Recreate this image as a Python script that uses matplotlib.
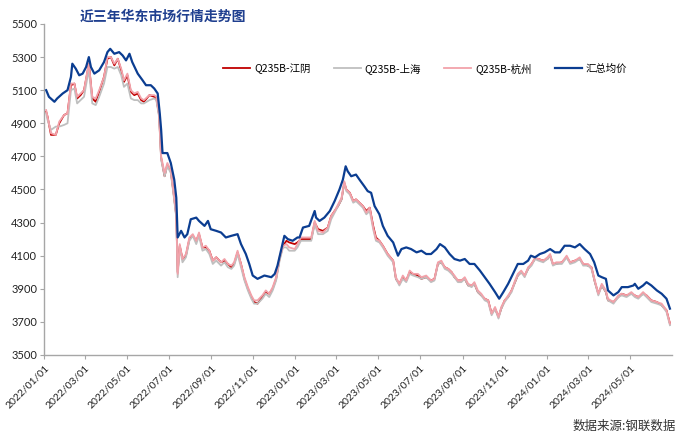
import matplotlib
matplotlib.use("Agg")
import matplotlib.pyplot as plt
import matplotlib.dates as mdates
import pandas as pd

plt.rcParams['font.family'] = ['Noto Sans CJK SC', 'DejaVu Sans']

title = "近三年华东市场行情走势图"
source = "数据来源:钢联数据"
series_names = ["Q235B-江阴", "Q235B-上海", "Q235B-杭州", "汇总均价"]

# dates for the three city series
city_dates = [
    "2022-01-04", "2022-01-06", "2022-01-11", "2022-01-18", "2022-01-23", "2022-01-30",
    "2022-02-04", "2022-02-09", "2022-02-14", "2022-02-18", "2022-02-23", "2022-02-28",
    "2022-03-05", "2022-03-07", "2022-03-12", "2022-03-17", "2022-03-22", "2022-03-29",
    "2022-04-03", "2022-04-08", "2022-04-13", "2022-04-18", "2022-04-23", "2022-04-27",
    "2022-05-02", "2022-05-07", "2022-05-12", "2022-05-17", "2022-05-22", "2022-05-26",
    "2022-06-03", "2022-06-10", "2022-06-13", "2022-06-17", "2022-06-20", "2022-06-25",
    "2022-06-29", "2022-07-04", "2022-07-08", "2022-07-12", "2022-07-14", "2022-07-17",
    "2022-07-21", "2022-07-26", "2022-07-31", "2022-08-05", "2022-08-10", "2022-08-14",
    "2022-08-19", "2022-08-24", "2022-08-29", "2022-09-03", "2022-09-08", "2022-09-15",
    "2022-09-20", "2022-09-25", "2022-09-30", "2022-10-04", "2022-10-09", "2022-10-14",
    "2022-10-19", "2022-10-24", "2022-10-29", "2022-11-02", "2022-11-07", "2022-11-14",
    "2022-11-19", "2022-11-24", "2022-11-29", "2022-12-04", "2022-12-09", "2022-12-14",
    "2022-12-19", "2022-12-23", "2022-12-31", "2023-01-04", "2023-01-09", "2023-01-17",
    "2023-01-24", "2023-01-29", "2023-02-03", "2023-02-10", "2023-02-17", "2023-02-22",
    "2023-02-27", "2023-03-04", "2023-03-09", "2023-03-13", "2023-03-16", "2023-03-21",
    "2023-03-26", "2023-03-30", "2023-04-04", "2023-04-09", "2023-04-14", "2023-04-19",
    "2023-04-24", "2023-04-28", "2023-05-03", "2023-05-08", "2023-05-15", "2023-05-23",
    "2023-05-27", "2023-06-01", "2023-06-06", "2023-06-11", "2023-06-16", "2023-06-21",
    "2023-06-28", "2023-07-03", "2023-07-10", "2023-07-17", "2023-07-22", "2023-07-27",
    "2023-08-01", "2023-08-06", "2023-08-11", "2023-08-16", "2023-08-20", "2023-08-25",
    "2023-08-30", "2023-09-04", "2023-09-09", "2023-09-14", "2023-09-18", "2023-09-23",
    "2023-09-28", "2023-10-03", "2023-10-08", "2023-10-13", "2023-10-18", "2023-10-23",
    "2023-10-27", "2023-11-01", "2023-11-06", "2023-11-11", "2023-11-16", "2023-11-20",
    "2023-11-25", "2023-11-30", "2023-12-05", "2023-12-10", "2023-12-15", "2023-12-20",
    "2023-12-27", "2024-01-02", "2024-01-06", "2024-01-10", "2024-01-15", "2024-01-23",
    "2024-01-30", "2024-02-04", "2024-02-11", "2024-02-18", "2024-02-23", "2024-03-01",
    "2024-03-06", "2024-03-11", "2024-03-16", "2024-03-21", "2024-03-27", "2024-03-30",
    "2024-04-07", "2024-04-14", "2024-04-19", "2024-04-26", "2024-05-03", "2024-05-08",
    "2024-05-13", "2024-05-20", "2024-05-25", "2024-06-01", "2024-06-09", "2024-06-16",
    "2024-06-23", "2024-06-28",
]

hangzhou = [
    4980, 4940, 4840, 4830, 4910, 4950,
    4960, 5140, 5140, 5060, 5080, 5100,
    5220, 5260, 5060, 5050, 5100, 5180,
    5300, 5300, 5260, 5290, 5230, 5160,
    5200, 5100, 5080, 5090, 5050, 5040,
    5070, 5070, 5060, 4960, 4700, 4600,
    4660, 4620, 4490, 4350, 3990, 4170,
    4080, 4110, 4210, 4230, 4190, 4240,
    4150, 4160, 4130, 4070, 4090, 4060,
    4080, 4050, 4040, 4060, 4130, 4050,
    3970, 3910, 3860, 3830, 3830, 3860,
    3890, 3870, 3910, 3970, 4090, 4160,
    4170, 4150, 4140, 4170, 4210, 4210,
    4210, 4310, 4250, 4240, 4270, 4340,
    4370, 4410, 4450, 4550, 4500, 4480,
    4430, 4440, 4420, 4400, 4360, 4390,
    4270, 4200, 4190, 4160, 4110, 4070,
    3970, 3930, 3980, 3950, 4010, 3990,
    3990, 3970, 3980, 3950, 3960, 4060,
    4070, 4030, 4020, 4000, 3980, 3950,
    3950, 3970, 3930, 3920, 3940, 3890,
    3870, 3840, 3830, 3750, 3790, 3730,
    3790, 3830, 3860, 3890, 3950, 3990,
    4010, 3980, 4030, 4050, 4090, 4080,
    4070, 4090, 4110, 4050, 4060, 4060,
    4100, 4060, 4070, 4090, 4050, 4050,
    4030, 3950, 3870, 3930, 3890, 3840,
    3820, 3860, 3870, 3860, 3880, 3860,
    3850, 3880, 3860, 3830, 3820, 3810,
    3770, 3690,
]

jiangyin = [
    4970, 4940, 4830, 4830, 4900, 4950,
    4960, 5130, 5140, 5050, 5070, 5100,
    5210, 5260, 5050, 5030, 5090, 5180,
    5290, 5300, 5250, 5290, 5220, 5150,
    5190, 5090, 5070, 5080, 5040, 5030,
    5070, 5060, 5050, 4950, 4690, 4580,
    4650, 4610, 4480, 4340, 4000, 4160,
    4080, 4100, 4200, 4220, 4190, 4230,
    4150, 4150, 4130, 4070, 4090, 4060,
    4070, 4050, 4030, 4050, 4120, 4050,
    3960, 3900, 3850, 3820, 3810, 3850,
    3880, 3870, 3900, 3960, 4080, 4160,
    4190, 4180, 4170, 4180, 4200, 4200,
    4200, 4300, 4260, 4250, 4270, 4340,
    4370, 4400, 4440, 4540, 4500, 4480,
    4430, 4440, 4420, 4400, 4370, 4390,
    4280, 4210, 4190, 4160, 4110, 4070,
    3960, 3930, 3970, 3950, 4000, 3990,
    3980, 3960, 3970, 3950, 3960, 4050,
    4060, 4030, 4020, 4000, 3970, 3950,
    3950, 3960, 3920, 3920, 3930, 3880,
    3860, 3840, 3830, 3750, 3780, 3730,
    3780, 3830, 3850, 3890, 3940, 3980,
    4000, 3980, 4020, 4050, 4080, 4080,
    4070, 4080, 4100, 4050, 4050, 4060,
    4090, 4060, 4070, 4080, 4050, 4040,
    4030, 3940, 3870, 3920, 3880, 3830,
    3820, 3850, 3870, 3860, 3870, 3860,
    3850, 3870, 3860, 3830, 3820, 3800,
    3770, 3690,
]

shanghai = [
    4960, 4920, 4860, 4880, 4880, 4890,
    4900, 5100, 5110, 5020, 5040, 5060,
    5180, 5220, 5020, 5010, 5060, 5140,
    5240, 5240, 5230, 5240, 5190, 5120,
    5140, 5050, 5040, 5040, 5020, 5020,
    5040, 5050, 5040, 4940, 4680, 4580,
    4640, 4600, 4470, 4330, 3970, 4150,
    4060, 4090, 4190, 4220, 4170, 4220,
    4130, 4140, 4110, 4050, 4070, 4040,
    4060, 4030, 4020, 4040, 4110, 4030,
    3950, 3890, 3840, 3810, 3810, 3840,
    3870, 3850, 3890, 3950, 4070, 4150,
    4150, 4130, 4130, 4150, 4190, 4190,
    4190, 4290, 4230, 4230, 4250, 4320,
    4360, 4400, 4440, 4540, 4490, 4470,
    4420, 4430, 4410, 4390, 4350, 4370,
    4260, 4190, 4180, 4150, 4100, 4060,
    3960, 3920, 3960, 3940, 3990, 3980,
    3970, 3960, 3970, 3940, 3950, 4050,
    4060, 4020, 4010, 3990, 3970, 3940,
    3940, 3960, 3920, 3910, 3930, 3880,
    3860, 3830, 3820, 3740, 3780, 3720,
    3780, 3820, 3850, 3880, 3940, 3980,
    4000, 3970, 4020, 4040, 4080, 4070,
    4060, 4080, 4100, 4040, 4050, 4050,
    4090, 4050, 4060, 4080, 4040, 4040,
    4020, 3940, 3860, 3920, 3880, 3830,
    3810, 3850, 3860, 3850, 3870, 3850,
    3840, 3870, 3850, 3820, 3810, 3800,
    3760, 3680,
]

avg_dates = [
    "2022-01-04", "2022-01-08", "2022-01-16", "2022-01-20", "2022-01-28", "2022-02-04",
    "2022-02-09", "2022-02-11", "2022-02-16", "2022-02-21", "2022-02-26", "2022-03-03",
    "2022-03-07", "2022-03-10", "2022-03-15", "2022-03-22", "2022-03-29", "2022-04-03",
    "2022-04-07", "2022-04-13", "2022-04-20", "2022-04-25", "2022-04-30", "2022-05-05",
    "2022-05-09", "2022-05-17", "2022-05-24", "2022-05-29", "2022-06-05", "2022-06-10",
    "2022-06-15", "2022-06-18", "2022-06-20", "2022-06-22", "2022-06-29", "2022-07-04",
    "2022-07-09", "2022-07-12", "2022-07-14", "2022-07-19", "2022-07-24", "2022-07-28",
    "2022-08-02", "2022-08-10", "2022-08-14", "2022-08-22", "2022-08-27", "2022-08-31",
    "2022-09-08", "2022-09-15", "2022-09-22", "2022-09-30", "2022-10-09", "2022-10-14",
    "2022-10-21", "2022-10-26", "2022-10-31", "2022-11-07", "2022-11-17", "2022-11-27",
    "2022-12-02", "2022-12-06", "2022-12-11", "2022-12-16", "2022-12-21", "2022-12-28",
    "2023-01-04", "2023-01-07", "2023-01-12", "2023-01-21", "2023-01-29", "2023-01-31",
    "2023-02-05", "2023-02-12", "2023-02-20", "2023-02-27", "2023-03-06", "2023-03-11",
    "2023-03-15", "2023-03-18", "2023-03-23", "2023-03-30", "2023-04-04", "2023-04-11",
    "2023-04-16", "2023-04-21", "2023-04-26", "2023-05-03", "2023-05-08", "2023-05-15",
    "2023-05-23", "2023-05-30", "2023-06-04", "2023-06-11", "2023-06-18", "2023-06-26",
    "2023-07-03", "2023-07-10", "2023-07-17", "2023-07-25", "2023-07-30", "2023-08-06",
    "2023-08-13", "2023-08-20", "2023-08-28", "2023-09-04", "2023-09-11", "2023-09-18",
    "2023-09-26", "2023-10-03", "2023-10-10", "2023-10-18", "2023-10-24", "2023-10-30",
    "2023-11-06", "2023-11-13", "2023-11-20", "2023-11-28", "2023-12-05", "2023-12-09",
    "2023-12-15", "2023-12-22", "2023-12-29", "2024-01-06", "2024-01-13", "2024-01-20",
    "2024-01-27", "2024-02-04", "2024-02-11", "2024-02-18", "2024-02-25", "2024-03-04",
    "2024-03-10", "2024-03-16", "2024-03-21", "2024-03-27", "2024-03-30", "2024-04-07",
    "2024-04-14", "2024-04-19", "2024-04-28", "2024-05-06", "2024-05-08", "2024-05-13",
    "2024-05-20", "2024-05-25", "2024-06-01", "2024-06-09", "2024-06-16", "2024-06-23",
    "2024-06-28",
]

average = [
    5100, 5060, 5030, 5050, 5080, 5100,
    5180, 5260, 5230, 5190, 5200, 5240,
    5300, 5240, 5200, 5220, 5270, 5330,
    5350, 5320, 5330, 5310, 5280, 5320,
    5270, 5200, 5160, 5130, 5130, 5110,
    5080, 4960, 4860, 4720, 4720, 4660,
    4560, 4450, 4210, 4250, 4210, 4230,
    4320, 4330, 4310, 4280, 4310, 4260,
    4250, 4240, 4210, 4220, 4230, 4170,
    4110, 4050, 3980, 3960, 3980, 3970,
    3990, 4040, 4130, 4220, 4200, 4190,
    4210, 4210, 4270, 4280, 4370, 4330,
    4310, 4330, 4370, 4430, 4500, 4560,
    4640, 4610, 4580, 4590, 4560, 4520,
    4490, 4480, 4400, 4350, 4280, 4220,
    4180, 4100, 4140, 4150, 4140, 4120,
    4130, 4110, 4110, 4140, 4170, 4150,
    4110, 4080, 4070, 4080, 4050, 4050,
    4010, 3970, 3930, 3880, 3840, 3880,
    3930, 3990, 4050, 4050, 4070, 4100,
    4090, 4110, 4120, 4140, 4120, 4120,
    4160, 4160, 4150, 4170, 4140, 4110,
    4060, 3980, 3970, 3960, 3890, 3860,
    3880, 3910, 3910, 3920, 3930, 3900,
    3920, 3940, 3920, 3890, 3870, 3840,
    3780,
]

y_ticks = [3500, 3700, 3900, 4100, 4300, 4500, 4700, 4900, 5100, 5300, 5500]
x_ticks = ["2022-01-01", "2022-03-01", "2022-05-01", "2022-07-01", "2022-09-01",
           "2022-11-01", "2023-01-01", "2023-03-01", "2023-05-01", "2023-07-01",
           "2023-09-01", "2023-11-01", "2024-01-01", "2024-03-01", "2024-05-01"]
x_range = ["2022-01-01", "2024-07-01"]

cd = pd.to_datetime(city_dates)
ad = pd.to_datetime(avg_dates)

fig = plt.figure(figsize=(7.0, 4.44), dpi=100)
ax = fig.add_axes([0.063, 0.2005, 0.897, 0.7455])

ax.plot(cd, jiangyin, color="#C00000", lw=1.3, label=series_names[0], zorder=2)
ax.plot(cd, shanghai, color="#BFBFBF", lw=1.3, label=series_names[1], zorder=3)
ax.plot(cd, hangzhou, color="#F2A2AA", lw=1.3, label=series_names[2], zorder=4)
ax.plot(ad, average, color="#0B3D91", lw=1.6, label=series_names[3], zorder=5)

ax.set_ylim(y_ticks[0], y_ticks[-1])
ax.set_yticks(y_ticks)
ax.set_xlim(pd.to_datetime(x_range[0]), pd.to_datetime(x_range[1]))
xt = pd.to_datetime(x_ticks)
ax.set_xticks(xt)
ax.set_xticklabels([d.strftime("%Y/%m/%d") for d in xt], rotation=45,
                   ha="right", rotation_mode="anchor", fontsize=7.5,
                   family=["Lato", "DejaVu Sans"])
for lab in ax.get_yticklabels():
    lab.set_fontsize(8)
    lab.set_family(["Lato", "DejaVu Sans"])

for s in ["top", "right"]:
    ax.spines[s].set_visible(False)
for s in ["left", "bottom"]:
    ax.spines[s].set_color("#A6A6A6")
    ax.spines[s].set_linewidth(1.0)
ax.tick_params(axis="y", length=3, color="#A6A6A6", labelcolor="#222222", pad=2)
ax.tick_params(axis="x", length=3, color="#A6A6A6", labelcolor="#222222", pad=3)

leg = ax.legend(loc="upper left", bbox_to_anchor=(0.27, 0.91), ncol=4, frameon=False,
                fontsize=7.5, handlelength=2.6, columnspacing=2.2, handletextpad=0.4)

fig.text(0.233, 0.963, title, ha="center", va="center", fontsize=10,
         fontweight="bold", color="#1F3F8F")
fig.text(0.966, 0.04, source, ha="right", va="center", fontsize=9, color="#333333")

fig.savefig("out.png", dpi=100)
